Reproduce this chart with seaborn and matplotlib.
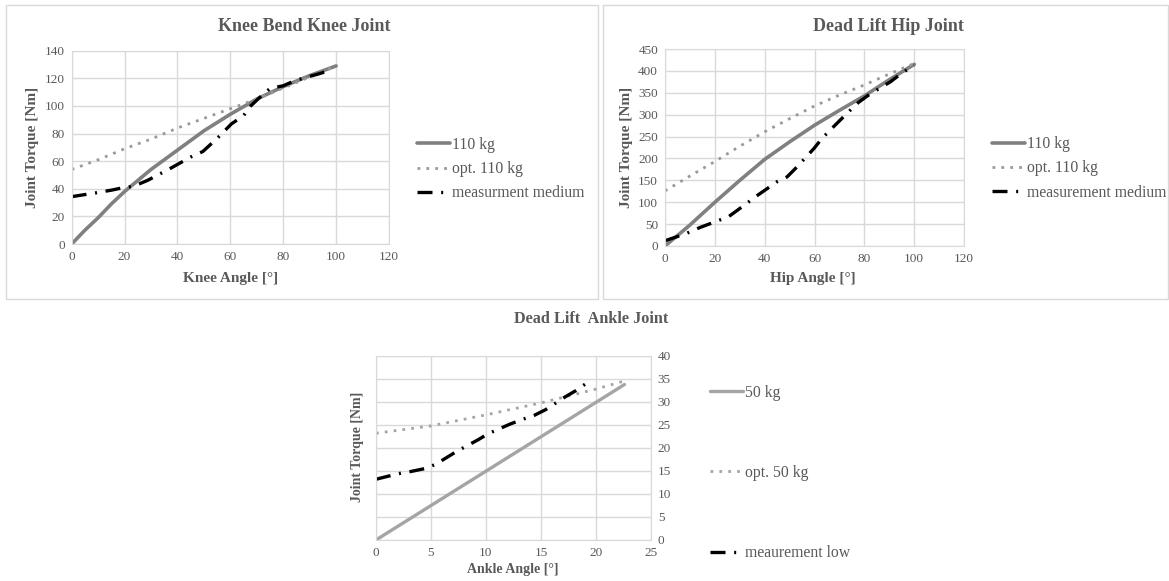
import matplotlib
matplotlib.use("Agg")
import matplotlib.pyplot as plt
import seaborn as sns
from matplotlib.patches import Rectangle

# knee bend, knee joint
knee_x = [0, 5, 10, 15, 20, 30, 40, 50, 60, 70, 80, 90, 100]
knee_110 = [0, 10, 19, 29, 38, 54, 68, 82, 94, 105, 114, 122, 129]
knee_opt = [54, 57.5, 61, 65, 69, 76, 84, 91, 98, 105, 113, 121, 129]
knee_meas_x = [0, 9, 15, 19.5, 23.6, 28.6, 36.6, 45, 49.6, 55, 60.4, 65, 67.7, 71, 75, 80, 84, 88.6, 93, 98]
knee_meas = [34.3, 37, 39, 40.8, 42, 46, 54, 63, 67, 76.5, 87, 93, 100, 106, 112.7, 114.6, 118, 120.7, 123, 126]

# dead lift, hip joint
hip_x = [0, 10, 20, 30, 40, 50, 60, 70, 80, 90, 100]
hip_110 = [0, 48, 100, 150, 198, 238, 276, 310, 343, 380, 415]
hip_opt = [126, 160, 193, 228, 261, 291, 320, 345, 368, 393, 417]
hip_meas_x = [0, 8.7, 13.9, 20.4, 25.5, 32, 36.4, 45, 49, 53, 59.8, 63, 67, 73, 77.6, 81.7, 90.4, 94.8, 100]
hip_meas = [12, 29, 42, 56, 67, 94, 113, 147, 158, 181, 223, 246, 269, 303, 328, 345, 375, 394, 413]

# dead lift, ankle joint
ankle_x = [0, 22.6]
ankle_50 = [0, 33.8]
ankle_opt_x = [0, 5, 10, 15, 20, 22.5]
ankle_opt = [23.2, 24.8, 27.2, 29.8, 32.8, 34.5]
ankle_meas_x = [0, 2, 3.2, 4.4, 5.4, 7.3, 8.3, 9.3, 10.2, 12.2, 13.3, 14.4, 15.4, 17.2, 18.2, 19.1]
ankle_meas = [13.2, 14.4, 14.9, 15.5, 16.4, 19.2, 20.5, 21.8, 23.1, 25.2, 26.2, 27.1, 28.3, 31.1, 32.5, 34]

sns.set_style("white")
plt.rcParams["font.family"] = ["Liberation Serif", "DejaVu Serif"]

TXT = "#595959"
GRID = "#d9d9d9"
DASHDOT = (0, (4.5, 2.6, 0.6, 2.6))
DOTS = (0, (1, 2.2))

fig = plt.figure(figsize=(11.69, 5.81), dpi=100)


def style_axes(ax, xmax, xstep, ymax, ystep, right=False):
    ax.set_xlim(0, xmax)
    ax.set_ylim(0, ymax)
    ax.set_xticks(range(0, xmax + 1, xstep))
    ax.set_yticks(range(0, ymax + 1, ystep))
    ax.grid(True, color=GRID, linewidth=1)
    ax.set_axisbelow(True)
    for s in ax.spines.values():
        s.set_color(GRID)
    ax.tick_params(length=0, labelsize=9.5, labelcolor=TXT, pad=5)
    if right:
        ax.yaxis.tick_right()
    ax.set_xlabel("")
    ax.set_ylabel("")


def add_legend(ax, x, y, spacing):
    ax.legend(loc="center left", bbox_to_anchor=(x, y), bbox_transform=fig.transFigure,
              frameon=False, fontsize=11.3, labelcolor=TXT, handlelength=2.1,
              handletextpad=0.1, borderpad=0, borderaxespad=0, labelspacing=spacing)


# top left panel
ax1 = fig.add_axes([0.0613, 0.58, 0.2715, 0.3327])
sns.lineplot(x=knee_x, y=knee_110, ax=ax1, color="#808080", linewidth=2.6, label="110 kg")
sns.lineplot(x=knee_x, y=knee_opt, ax=ax1, color="#999999", linewidth=2, linestyle=DOTS, label="opt. 110 kg")
sns.lineplot(x=knee_meas_x, y=knee_meas, ax=ax1, color="black", linewidth=2.4, linestyle=DASHDOT, label="measurment medium")
style_axes(ax1, 120, 20, 140, 20)
add_legend(ax1, 0.3567, 0.709, 0.53)

# top right panel
ax2 = fig.add_axes([0.5689, 0.5766, 0.2558, 0.339])
sns.lineplot(x=hip_x, y=hip_110, ax=ax2, color="#808080", linewidth=2.6, label="110 kg")
sns.lineplot(x=hip_x, y=hip_opt, ax=ax2, color="#999999", linewidth=2, linestyle=DOTS, label="opt. 110 kg")
sns.lineplot(x=hip_meas_x, y=hip_meas, ax=ax2, color="black", linewidth=2.4, linestyle=DASHDOT, label="measurement medium")
style_axes(ax2, 120, 20, 450, 50)
add_legend(ax2, 0.8486, 0.710, 0.53)

# bottom panel
ax3 = fig.add_axes([0.3216, 0.0706, 0.2352, 0.3167])
sns.lineplot(x=ankle_x, y=ankle_50, ax=ax3, color="#a5a5a5", linewidth=2.4, label="50 kg")
sns.lineplot(x=ankle_opt_x, y=ankle_opt, ax=ax3, color="#a5a5a5", linewidth=2, linestyle=DOTS, label="opt. 50 kg")
sns.lineplot(x=ankle_meas_x, y=ankle_meas, ax=ax3, color="black", linewidth=2.4, linestyle=DASHDOT, label="meaurement low")
style_axes(ax3, 25, 5, 40, 5, right=True)
add_legend(ax3, 0.6074, 0.1859, 4.1)

# titles and axis labels
fig.text(0.260, 0.955, "Knee Bend Knee Joint", ha="center", va="center", fontsize=13, fontweight="bold", color=TXT)
fig.text(0.7596, 0.955, "Dead Lift Hip Joint", ha="center", va="center", fontsize=13, fontweight="bold", color=TXT)
fig.text(0.5056, 0.451, "Dead Lift  Ankle Joint", ha="center", va="center", fontsize=11.7, fontweight="bold", color=TXT)

fig.text(0.197, 0.5215, "Knee Angle [°]", ha="center", va="center", fontsize=11, fontweight="bold", color=TXT)
fig.text(0.6955, 0.5215, "Hip Angle [°]", ha="center", va="center", fontsize=11, fontweight="bold", color=TXT)
fig.text(0.439, 0.019, "Ankle Angle [°]", ha="center", va="center", fontsize=10, fontweight="bold", color=TXT)

fig.text(0.0278, 0.747, "Joint Torque [Nm]", ha="center", va="center", rotation=90, fontsize=11, fontweight="bold", color=TXT)
fig.text(0.536, 0.747, "Joint Torque [Nm]", ha="center", va="center", rotation=90, fontsize=11, fontweight="bold", color=TXT)
fig.text(0.3054, 0.2306, "Joint Torque [Nm]", ha="center", va="center", rotation=90, fontsize=10, fontweight="bold", color=TXT)

# panel frames
fig.patches.append(Rectangle((0.0051, 0.4854), 0.5064, 0.506, transform=fig.transFigure,
                             fill=False, edgecolor=GRID, linewidth=1))
fig.patches.append(Rectangle((0.5158, 0.4854), 0.4833, 0.506, transform=fig.transFigure,
                             fill=False, edgecolor=GRID, linewidth=1))

fig.savefig("out.png", dpi=100)
